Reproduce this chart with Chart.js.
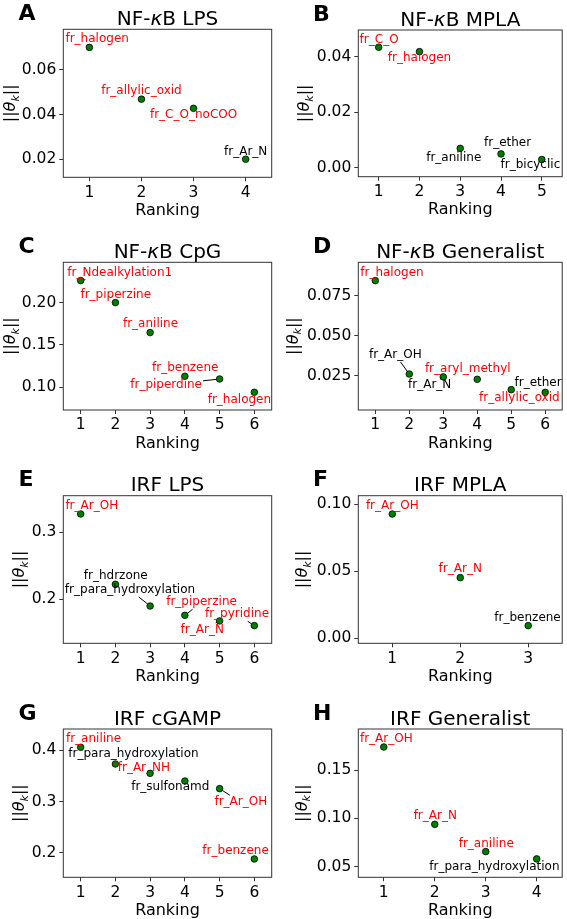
<!DOCTYPE html>
<html>
<head>
<meta charset="utf-8">
<script src="https://cdn.jsdelivr.net/npm/chart.js@4.4.1/dist/chart.umd.min.js"></script>
<style>
  html, body { margin: 0; padding: 0; background: #fff; }
  #wrap { position: relative; width: 567px; height: 919px; overflow: hidden; }
  #wrap canvas { position: absolute; left: 0; top: 0; }
</style>
</head>
<body>
<div id="wrap"></div>
<script>
// ranking of each feature (x axis)
const rankings = [1, 2, 3, 4, 5, 6];

// A - NF-kB LPS
const nfkbLpsFeatures = ['fr_halogen', 'fr_allylic_oxid', 'fr_C_O_noCOO', 'fr_Ar_N'];
const nfkbLpsNorms = [0.0701, 0.0469, 0.0428, 0.0200];
const nfkbLpsShared = [true, true, true, false];
const nfkbLpsTicks = [0.02, 0.04, 0.06];

// B - NF-kB MPLA
const nfkbMplaFeatures = ['fr_C_O', 'fr_halogen', 'fr_aniline', 'fr_ether', 'fr_bicyclic'];
const nfkbMplaNorms = [0.0434, 0.0418, 0.0070, 0.0050, 0.0030];
const nfkbMplaShared = [true, true, false, false, false];
const nfkbMplaTicks = [0.00, 0.02, 0.04];

// C - NF-kB CpG
const nfkbCpgFeatures = ['fr_Ndealkylation1', 'fr_piperzine', 'fr_aniline', 'fr_benzene', 'fr_piperdine', 'fr_halogen'];
const nfkbCpgNorms = [0.226, 0.200, 0.1646, 0.113, 0.1098, 0.0941];
const nfkbCpgShared = [true, true, true, true, true, true];
const nfkbCpgTicks = [0.10, 0.15, 0.20];

// D - NF-kB Generalist
const nfkbGenFeatures = ['fr_halogen', 'fr_Ar_OH', 'fr_Ar_N', 'fr_aryl_methyl', 'fr_allylic_oxid', 'fr_ether'];
const nfkbGenNorms = [0.0846, 0.0260, 0.0242, 0.0227, 0.0162, 0.0145];
const nfkbGenShared = [true, false, false, true, true, false];
const nfkbGenTicks = [0.025, 0.050, 0.075];

// E - IRF LPS
const irfLpsFeatures = ['fr_Ar_OH', 'fr_hdrzone', 'fr_para_hydroxylation', 'fr_piperzine', 'fr_Ar_N', 'fr_pyridine'];
const irfLpsNorms = [0.3274, 0.2224, 0.190, 0.1761, 0.1677, 0.1607];
const irfLpsShared = [true, false, false, true, true, true];
const irfLpsTicks = [0.2, 0.3];

// F - IRF MPLA
const irfMplaFeatures = ['fr_Ar_OH', 'fr_Ar_N', 'fr_benzene'];
const irfMplaNorms = [0.0928, 0.0453, 0.0095];
const irfMplaShared = [true, true, false];
const irfMplaTicks = [0.00, 0.05, 0.10];

// G - IRF cGAMP
const irfCgampFeatures = ['fr_aniline', 'fr_para_hydroxylation', 'fr_Ar_NH', 'fr_sulfonamd', 'fr_Ar_OH', 'fr_benzene'];
const irfCgampNorms = [0.4059, 0.3733, 0.355, 0.340, 0.3251, 0.1876];
const irfCgampShared = [true, false, true, false, true, true];
const irfCgampTicks = [0.2, 0.3, 0.4];

// H - IRF Generalist
const irfGenFeatures = ['fr_Ar_OH', 'fr_Ar_N', 'fr_aniline', 'fr_para_hydroxylation'];
const irfGenNorms = [0.1742, 0.0939, 0.0656, 0.058];
const irfGenShared = [true, true, true, false];
const irfGenTicks = [0.05, 0.10, 0.15];

const W = 567, H = 919;
const Y_W = 60, X_H = 30;
const FONT = '"DejaVu Sans", sans-serif';

// layout of each panel: plot box in page pixels, axis limits, label spots (data coords)
const panels = [
  { letter: 'A', title: [['NF-', 0], ['κ', 1], ['B LPS', 0]],
    features: nfkbLpsFeatures, norms: nfkbLpsNorms, shared: nfkbLpsShared, ticks: nfkbLpsTicks, digits: 2,
    box: [63.3, 29.3, 271.7, 177.3], ymin: 0.0119, ymax: 0.0782, ylabX: 15,
    labels: [[1.15, 0.0737], [2.0, 0.0506], [3.0, 0.0399], [4.0, 0.0234]], lines: [] },
  { letter: 'B', title: [['NF-', 0], ['κ', 1], ['B MPLA', 0]],
    features: nfkbMplaFeatures, norms: nfkbMplaNorms, shared: nfkbMplaShared, ticks: nfkbMplaTicks, digits: 2,
    box: [358.3, 30, 566.7, 176.7], ymin: -0.0032, ymax: 0.0496, ylabX: 309,
    labels: [[1.01, 0.0462], [2.0, 0.0394], [2.84, 0.0037], [4.16, 0.0090], [4.72, 0.0010]], lines: [] },
  { letter: 'C', title: [['NF-', 0], ['κ', 1], ['B CpG', 0]],
    features: nfkbCpgFeatures, norms: nfkbCpgNorms, shared: nfkbCpgShared, ticks: nfkbCpgTicks, digits: 2,
    box: [63.3, 262.3, 271.7, 410], ymin: 0.0732, ymax: 0.2476, ylabX: 15,
    labels: [[2.125, 0.2354], [2.01, 0.209], [3.01, 0.1744], [4.01, 0.1224], [3.46, 0.1028], [5.57, 0.085]], lines: [0, 4] },
  { letter: 'D', title: [['NF-', 0], ['κ', 1], ['B Generalist', 0]],
    features: nfkbGenFeatures, norms: nfkbGenNorms, shared: nfkbGenShared, ticks: nfkbGenTicks, digits: 3,
    box: [358.3, 262.3, 566.7, 410], ymin: 0.00345, ymax: 0.0961, ylabX: 297.5,
    labels: [[1.49, 0.0896], [1.59, 0.038], [2.6, 0.0191], [3.72, 0.0292], [5.24, 0.0108], [5.79, 0.0206]], lines: [1, 2] },
  { letter: 'E', title: [['IRF LPS', 0]],
    features: irfLpsFeatures, norms: irfLpsNorms, shared: irfLpsShared, ticks: irfLpsTicks, digits: 1,
    box: [63.3, 495.7, 271.7, 643.3], ymin: 0.1343, ymax: 0.3547, ylabX: 24,
    labels: [[1.32, 0.3393], [2.01, 0.2348], [2.42, 0.2139], [4.48, 0.1955], [4.5, 0.1542], [5.5, 0.1776]], lines: [2, 3, 4, 5] },
  { letter: 'F', title: [['IRF MPLA', 0]],
    features: irfMplaFeatures, norms: irfMplaNorms, shared: irfMplaShared, ticks: irfMplaTicks, digits: 2,
    box: [358.3, 495.7, 566.7, 643.3], ymin: -0.0037, ymax: 0.1065, ylabX: 307,
    labels: [[1.0, 0.0988], [2.0, 0.0515], [2.99, 0.0149]], lines: [] },
  { letter: 'G', title: [['IRF cGAMP', 0]],
    features: irfCgampFeatures, norms: irfCgampNorms, shared: irfCgampShared, ticks: irfCgampTicks, digits: 1,
    box: [63.3, 729, 271.7, 877.3], ymin: 0.1518, ymax: 0.4417, ylabX: 24,
    labels: [[1.37, 0.4222], [2.52, 0.3928], [2.82, 0.3661], [3.58, 0.3277], [5.61, 0.2984], [5.46, 0.2033]], lines: [2, 4] },
  { letter: 'H', title: [['IRF Generalist', 0]],
    features: irfGenFeatures, norms: irfGenNorms, shared: irfGenShared, ticks: irfGenTicks, digits: 2,
    box: [358.3, 729, 566.7, 877.3], ymin: 0.0389, ymax: 0.1929, ylabX: 306.5,
    labels: [[1.05, 0.1825], [2.01, 0.1029], [3.01, 0.0735], [3.17, 0.050]], lines: [] }
];

function drawParts(ctx, parts, x, y) {
  // parts: [text, font, dy]
  let total = 0;
  parts.forEach(p => { ctx.font = p[1]; total += ctx.measureText(p[0]).width; });
  let cx = x - total / 2;
  parts.forEach(p => {
    ctx.font = p[1];
    ctx.fillText(p[0], cx, y + (p[2] || 0));
    cx += ctx.measureText(p[0]).width;
  });
}

const decor = {
  id: 'decor',
  afterDraw(chart) {
    const p = chart.options.plugins.decor.panel;
    const ctx = chart.ctx;
    const a = chart.chartArea;
    const xs = chart.scales.x, ys = chart.scales.y;
    ctx.save();

    // frame
    ctx.strokeStyle = '#333';
    ctx.lineWidth = 1;
    ctx.strokeRect(a.left, a.top, a.right - a.left, a.bottom - a.top);

    ctx.fillStyle = '#000';
    ctx.textAlign = 'left';
    ctx.textBaseline = 'alphabetic';

    // panel letter
    ctx.font = 'bold 22px ' + FONT;
    ctx.fillText(p.letter, p.box[0] < 200 ? 18.5 : 313, a.top - 9.5);

    // title
    const tparts = p.title.map(t => [t[0], (t[1] ? 'italic ' : '') + '20px ' + FONT, 0]);
    drawParts(ctx, tparts, (a.left + a.right) / 2, a.top - 4.5);

    // x label
    ctx.font = '16px ' + FONT;
    ctx.textAlign = 'center';
    ctx.fillText('Ranking', (a.left + a.right) / 2, a.bottom + 37.7);
    ctx.textAlign = 'left';

    // y label ||theta_k||
    ctx.save();
    ctx.translate(p.ylabX, (a.top + a.bottom) / 2);
    ctx.rotate(-Math.PI / 2);
    drawParts(ctx, [
      ['||', '16px ' + FONT, 0],
      ['θ', 'italic 16px ' + FONT, 0],
      ['k', 'italic 11px ' + FONT, 3.5],
      ['||', '16px ' + FONT, 0]
    ], 0, 0);
    ctx.restore();

    // feature labels and connectors
    ctx.font = '12px ' + FONT;
    p.features.forEach((name, i) => {
      const lx = xs.getPixelForValue(p.labels[i][0]);
      const ly = ys.getPixelForValue(p.labels[i][1]);
      const w = ctx.measureText(name).width;
      if (p.lines.includes(i)) {
        const px = xs.getPixelForValue(rankings[i]);
        const py = ys.getPixelForValue(p.norms[i]);
        const dx = px - lx, dy = py - ly;
        const t = Math.min(Math.abs(dx) > 0 ? (w / 2 + 1) / Math.abs(dx) : 99,
                           Math.abs(dy) > 0 ? 7 / Math.abs(dy) : 99);
        if (t < 1) {
          const len = Math.hypot(dx, dy);
          const k = 1 - 3.3 / len;
          ctx.beginPath();
          ctx.moveTo(lx + dx * t, ly + dy * t);
          ctx.lineTo(lx + dx * k, ly + dy * k);
          ctx.strokeStyle = '#000';
          ctx.lineWidth = 1;
          ctx.stroke();
        }
      }
      ctx.fillStyle = p.shared[i] ? '#ff0000' : '#000';
      ctx.textAlign = 'center';
      ctx.fillText(name, lx, ly + 3.1);
    });
    ctx.restore();
  }
};

const wrap = document.getElementById('wrap');

panels.forEach(p => {
  const canvas = document.createElement('canvas');
  canvas.width = W;
  canvas.height = H;
  canvas.style.width = W + 'px';
  canvas.style.height = H + 'px';
  wrap.appendChild(canvas);

  const ranks = rankings.slice(0, p.features.length);
  const tickFont = { family: FONT, size: 15.5 };

  new Chart(canvas, {
    type: 'scatter',
    data: {
      datasets: [{
        data: ranks.map((r, i) => ({ x: r, y: p.norms[i] })),
        backgroundColor: '#008000',
        borderColor: '#000',
        borderWidth: 0.8,
        pointRadius: 3.3
      }]
    },
    options: {
      responsive: false,
      animation: false,
      events: [],
      devicePixelRatio: 1,
      layout: {
        padding: {
          left: p.box[0] - Y_W,
          top: p.box[1],
          right: W - p.box[2],
          bottom: H - p.box[3] - X_H
        }
      },
      plugins: {
        legend: { display: false },
        tooltip: { enabled: false },
        decor: { panel: p }
      },
      scales: {
        x: {
          type: 'linear',
          min: 0.5,
          max: ranks.length + 0.5,
          afterFit: s => { s.height = X_H; },
          afterBuildTicks: s => { s.ticks = ranks.map(v => ({ value: v })); },
          grid: { drawOnChartArea: false, tickLength: 4, color: '#333' },
          border: { display: false },
          ticks: { font: tickFont, color: '#000', padding: 2, callback: v => String(v) }
        },
        y: {
          type: 'linear',
          min: p.ymin,
          max: p.ymax,
          afterFit: s => { s.width = Y_W; },
          afterBuildTicks: s => { s.ticks = p.ticks.map(v => ({ value: v })); },
          grid: { drawOnChartArea: false, tickLength: 4, color: '#333' },
          border: { display: false },
          ticks: { font: tickFont, color: '#000', padding: 3, callback: v => v.toFixed(p.digits) }
        }
      }
    },
    plugins: [decor]
  });
});
</script>
</body>
</html>
